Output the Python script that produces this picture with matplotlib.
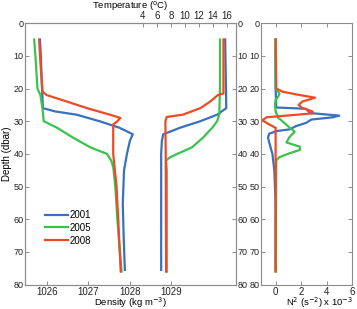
import matplotlib
matplotlib.use('Agg')
import matplotlib.pyplot as plt

plt.rcParams['font.family'] = ['Liberation Sans', 'DejaVu Sans']
plt.rcParams['font.size'] = 7

years = ['2001', '2005', '2008']
colors = ['#3a70c0', '#3cc24c', '#ee4a26']

# density (kg m-3) vs depth (dbar)
rho_depth = [
    [5, 10, 20, 26, 27, 28, 30, 32, 34, 36, 40, 45, 55, 65, 75.5],
    [5, 10, 20, 22, 26, 30, 32, 35, 38, 40, 42, 44, 50, 60, 70, 76],
    [5, 10, 21, 22, 24, 26, 28, 29, 30, 31, 35, 40, 50, 60, 76],
]
rho = [
    [1025.84, 1025.86, 1025.89, 1025.91, 1026.2, 1026.72, 1027.27, 1027.75, 1028.07, 1028.0, 1027.93, 1027.86, 1027.83, 1027.85, 1027.88],
    [1025.7, 1025.73, 1025.78, 1025.85, 1025.9, 1025.93, 1026.25, 1026.63, 1027.05, 1027.45, 1027.55, 1027.6, 1027.65, 1027.7, 1027.76, 1027.8],
    [1025.82, 1025.84, 1025.9, 1026.0, 1026.49, 1026.97, 1027.52, 1027.77, 1027.7, 1027.6, 1027.6, 1027.6, 1027.68, 1027.72, 1027.78],
]

# temperature (C) vs depth
t_depth = [
    [5, 26, 28, 30, 32, 34, 36, 40, 50, 75.5],
    [5, 20, 28, 30, 32, 35, 38, 40, 41, 42, 45, 76],
    [5, 21.5, 22, 24, 26, 28, 28.7, 30, 40, 76],
]
temp = [
    [15.75, 15.9, 14.6, 12.2, 9.3, 6.9, 6.7, 6.6, 6.6, 6.6],
    [15.0, 15.0, 14.9, 14.6, 13.9, 12.6, 11.0, 8.9, 7.9, 7.3, 7.4, 7.4],
    [15.5, 15.5, 14.7, 13.6, 12.2, 9.7, 7.4, 7.2, 7.25, 7.3],
]

# N^2 (x 10^-3 s^-2) vs depth
n2_depth = [
    [5, 20, 25.8, 26.2, 27.5, 28.3, 28.8, 29.5, 30.5, 31.5, 32.5, 33, 33.8, 35, 38, 40, 45, 55, 75.5],
    [5, 20, 21.5, 22.5, 23.5, 25, 27, 29, 29.7, 32, 33.2, 34.8, 36.5, 37.8, 38.8, 39.8, 41, 42, 76],
    [5, 20, 21, 22, 22.8, 24, 25, 26, 27, 27.6, 28.2, 28.8, 29.7, 31, 32, 76],
]
n2 = [
    [0, 0, 0.05, 2.4, 2.7, 5.0, 4.5, 2.8, 2.4, 1.6, 1.1, 0.1, -0.5, -0.6, -0.4, -0.25, -0.1, 0, 0],
    [0, 0, 0.3, 0.2, 0, -0.05, 0, 0.2, 0.45, 1.1, 1.5, 1.1, 0.85, 1.9, 1.9, 1.1, 0.3, 0.05, 0],
    [0, 0.05, 0.57, 1.9, 3.1, 2.1, 1.8, 2.1, 2.9, 2.9, 1.1, -0.7, -1.05, -0.5, 0, 0],
]

depth_ticks = list(range(0, 81, 10))
spine_col = '#8c8c8c'

fig = plt.figure(figsize=(3.57, 3.09), dpi=100)
ax = fig.add_axes([0.070, 0.079, 0.591, 0.846])
ax2 = fig.add_axes([0.731, 0.079, 0.255, 0.846])

def style(a):
    for s in a.spines.values():
        s.set_color(spine_col)
        s.set_linewidth(0.8)
    a.tick_params(direction='in', length=3, width=0.7, color=spine_col, labelcolor='#222222', pad=1.5)
    a.tick_params(axis='y', pad=1, labelsize=6.5)

# left panel: density (bottom) and temperature (top)
for i in range(3):
    ax.plot(rho[i], rho_depth[i], color=colors[i], lw=1.6, label=years[i])
ax.set_xlim(1025.48, 1030.55)
ax.set_xticks([1026, 1027, 1028, 1029])
ax.set_ylim(80, 0)
ax.set_yticks(depth_ticks)
ax.set_ylabel('Depth (dbar)', labelpad=1)
ax.set_xlabel('Density (kg m$^{-3}$)', fontsize=6.8)
ax.xaxis.set_label_coords(0.5, -0.07)
ax.xaxis.label.set_va('center')
ax.tick_params(axis='y', right=True, labelright=True)
style(ax)
ax.legend(loc='lower left', bbox_to_anchor=(0.07, 0.13), frameon=False,
          handlelength=2.4, handletextpad=0.2, labelspacing=0.3, borderpad=0)

axt = ax.twiny()
for i in range(3):
    axt.plot(temp[i], t_depth[i], color=colors[i], lw=1.6)
axt.set_xlim(-12.86, 17.29)
axt.set_xticks([4, 6, 8, 10, 12, 14, 16])
axt.set_xlabel('Temperature ($^{\\rm o}$C)', fontsize=6.8)
axt.xaxis.set_label_coords(0.5, 1.067)
axt.xaxis.label.set_va('center')
style(axt)

# right panel: N^2
for i in range(3):
    ax2.plot(n2[i], n2_depth[i], color=colors[i], lw=1.6)
ax2.set_xlim(-1.15, 6)
ax2.set_xticks([0, 2, 4, 6])
ax2.set_ylim(80, 0)
ax2.set_yticks(depth_ticks)
ax2.tick_params(axis='y', right=True)
ax2.tick_params(axis='x', top=True)
ax2.set_xlabel('N$^2$ (s$^{-2}$) x 10$^{-3}$', fontsize=6.8)
ax2.xaxis.set_label_coords(0.64, -0.071)
ax2.xaxis.label.set_va('center')
style(ax2)

fig.savefig('out.png', dpi=100)
